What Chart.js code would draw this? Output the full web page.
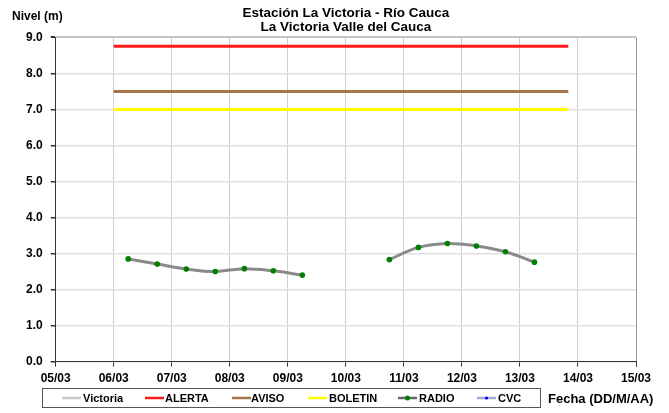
<!DOCTYPE html>
<html><head><meta charset="utf-8">
<script src="https://cdn.jsdelivr.net/npm/chart.js@4.4.0/dist/chart.umd.min.js"></script>
<style>html,body{margin:0;padding:0;background:#fff}</style>
</head><body>
<canvas id="c" width="669" height="413"></canvas>
<script>
const titleLines = ['Estación La Victoria - Río Cauca', 'La Victoria Valle del Cauca'];
const yAxisLabel = 'Nivel (m)';
const xAxisLabel = 'Fecha (DD/M/AA)';
const xTickLabels = ['05/03','06/03','07/03','08/03','09/03','10/03','11/03','12/03','13/03','14/03','15/03'];
const yTickLabels = ['0.0','1.0','2.0','3.0','4.0','5.0','6.0','7.0','8.0','9.0'];
const seriesNames = ['Victoria','ALERTA','AVISO','BOLETIN','RADIO','CVC'];

const radioTimes = ['06/03 06:00','06/03 18:00','07/03 06:00','07/03 18:00','08/03 06:00','08/03 18:00','09/03 06:00',
                    '10/03 00:00',
                    '10/03 18:00','11/03 06:00','11/03 18:00','12/03 06:00','12/03 18:00','13/03 06:00'];
const radioLevels = [2.85, 2.71, 2.57, 2.50, 2.58, 2.52, 2.40,
                     null,
                     2.83, 3.17, 3.28, 3.21, 3.05, 2.76];
const victoriaTimes = [];
const victoriaLevels = [];
const cvcTimes = [];
const cvcLevels = [];
const thresholdTimes = ['06/03 00:00', '13/03 20:00'];
const alertaLevels = [8.75, 8.75];
const avisoLevels = [7.5, 7.5];
const boletinLevels = [7.0, 7.0];

function toDay(s) {
  const [d, t] = s.split(' ');
  const day = +d.split('/')[0];
  const [h, m] = t.split(':').map(Number);
  return day + (h + m / 60) / 24;
}
function pts(times, vals) { return times.map((t, i) => ({ x: toDay(t), y: vals[i] })); }

const FONT = 'Liberation Sans, Arial, sans-serif';

const legendSpec = [
  { sym: 62, txt: 83 }, { sym: 145, txt: 165 }, { sym: 232, txt: 251 },
  { sym: 308, txt: 329 }, { sym: 398, txt: 419 }, { sym: 477, txt: 498 }
];

const extras = {
  id: 'extras',
  afterDraw(chart) {
    const ctx = chart.ctx;
    ctx.save();
    ctx.fillStyle = '#000';
    ctx.font = 'bold 12px ' + FONT;
    ctx.textBaseline = 'middle';
    ctx.textAlign = 'left';
    ctx.fillText(yAxisLabel, 12, 17);
    ctx.font = 'bold 13px ' + FONT;
    ctx.fillText(xAxisLabel, 548, 399);
    // legend box
    ctx.strokeStyle = '#555';
    ctx.lineWidth = 1;
    ctx.strokeRect(42.5, 388.5, 498, 19);
    ctx.font = 'bold 11px ' + FONT;
    chart.data.datasets.forEach((ds, i) => {
      const sp = legendSpec[i];
      const y = 398;
      ctx.strokeStyle = ds.legendLine || ds.borderColor;
      ctx.lineWidth = 2.5;
      ctx.beginPath(); ctx.moveTo(sp.sym, y); ctx.lineTo(sp.sym + 19, y); ctx.stroke();
      if (ds.legendDot) {
        ctx.fillStyle = ds.legendDot;
        ctx.beginPath(); ctx.arc(sp.sym + 9.5, y, ds.legendDotR, 0, Math.PI * 2); ctx.fill();
      }
      ctx.fillStyle = '#000';
      ctx.fillText(ds.label, sp.txt, y + 0.5);
    });
    ctx.restore();
  }
};

new Chart(document.getElementById('c'), {
  type: 'line',
  data: {
    datasets: [
      { label: seriesNames[0], data: pts(victoriaTimes, victoriaLevels), borderColor: '#c8c8c8', borderWidth: 2, pointRadius: 0 },
      { label: seriesNames[1], data: pts(thresholdTimes, alertaLevels), borderColor: '#ff1a1a', borderWidth: 3, pointRadius: 0 },
      { label: seriesNames[2], data: pts(thresholdTimes, avisoLevels), borderColor: '#a57449', borderWidth: 3, pointRadius: 0 },
      { label: seriesNames[3], data: pts(thresholdTimes, boletinLevels), borderColor: '#ffff00', borderWidth: 3, pointRadius: 0 },
      { label: seriesNames[4], data: pts(radioTimes, radioLevels), borderColor: '#8a8a8a', borderWidth: 3,
        legendLine: '#666', legendDot: '#008000', legendDotR: 2.5,
        pointRadius: 2.8, pointBackgroundColor: '#008000', pointBorderColor: '#008000', pointBorderWidth: 0,
        tension: 0.4, spanGaps: false },
      { label: seriesNames[5], data: pts(cvcTimes, cvcLevels), borderColor: '#a8a8d8', borderWidth: 1.5, pointRadius: 1.5,
        legendDot: '#0000ff', legendDotR: 1.6, pointBackgroundColor: '#0000ff' }
    ]
  },
  options: {
    responsive: false,
    animation: false,
    devicePixelRatio: 1,
    layout: { padding: { left: 18, right: 33, top: 0, bottom: 22 } },
    plugins: {
      legend: { display: false },
      tooltip: { enabled: false },
      title: {
        display: true, text: titleLines, fullSize: false, color: '#000',
        font: { family: FONT, size: 13.5, weight: 'bold', lineHeight: 1.05 },
        padding: { top: 6, bottom: 3 }
      }
    },
    scales: {
      x: {
        type: 'linear', min: 5, max: 15,
        ticks: { stepSize: 1, color: '#000', font: { family: FONT, size: 12, weight: 'bold' }, padding: 5, maxRotation: 0,
          callback: v => xTickLabels[Math.round(v) - 5] },
        grid: { color: c => (c.tick && c.tick.value === 15) ? '#999' : '#cfcfcf', lineWidth: 1, tickLength: 5, tickColor: '#333' },
        border: { color: '#333', width: 1 }
      },
      y: {
        min: 0, max: 9,
        ticks: { stepSize: 1, color: '#000', font: { family: FONT, size: 12, weight: 'bold' }, padding: 8,
          callback: v => yTickLabels[Math.round(v)] },
        grid: { color: c => (c.tick && c.tick.value === 9) ? '#c4c4c4' : '#e0e0e0', lineWidth: c => (c.tick && c.tick.value === 9) ? 2 : 1.5, tickLength: 5, tickColor: '#333' },
        border: { color: '#333', width: 1 }
      }
    }
  },
  plugins: [extras]
});
</script>
</body></html>
